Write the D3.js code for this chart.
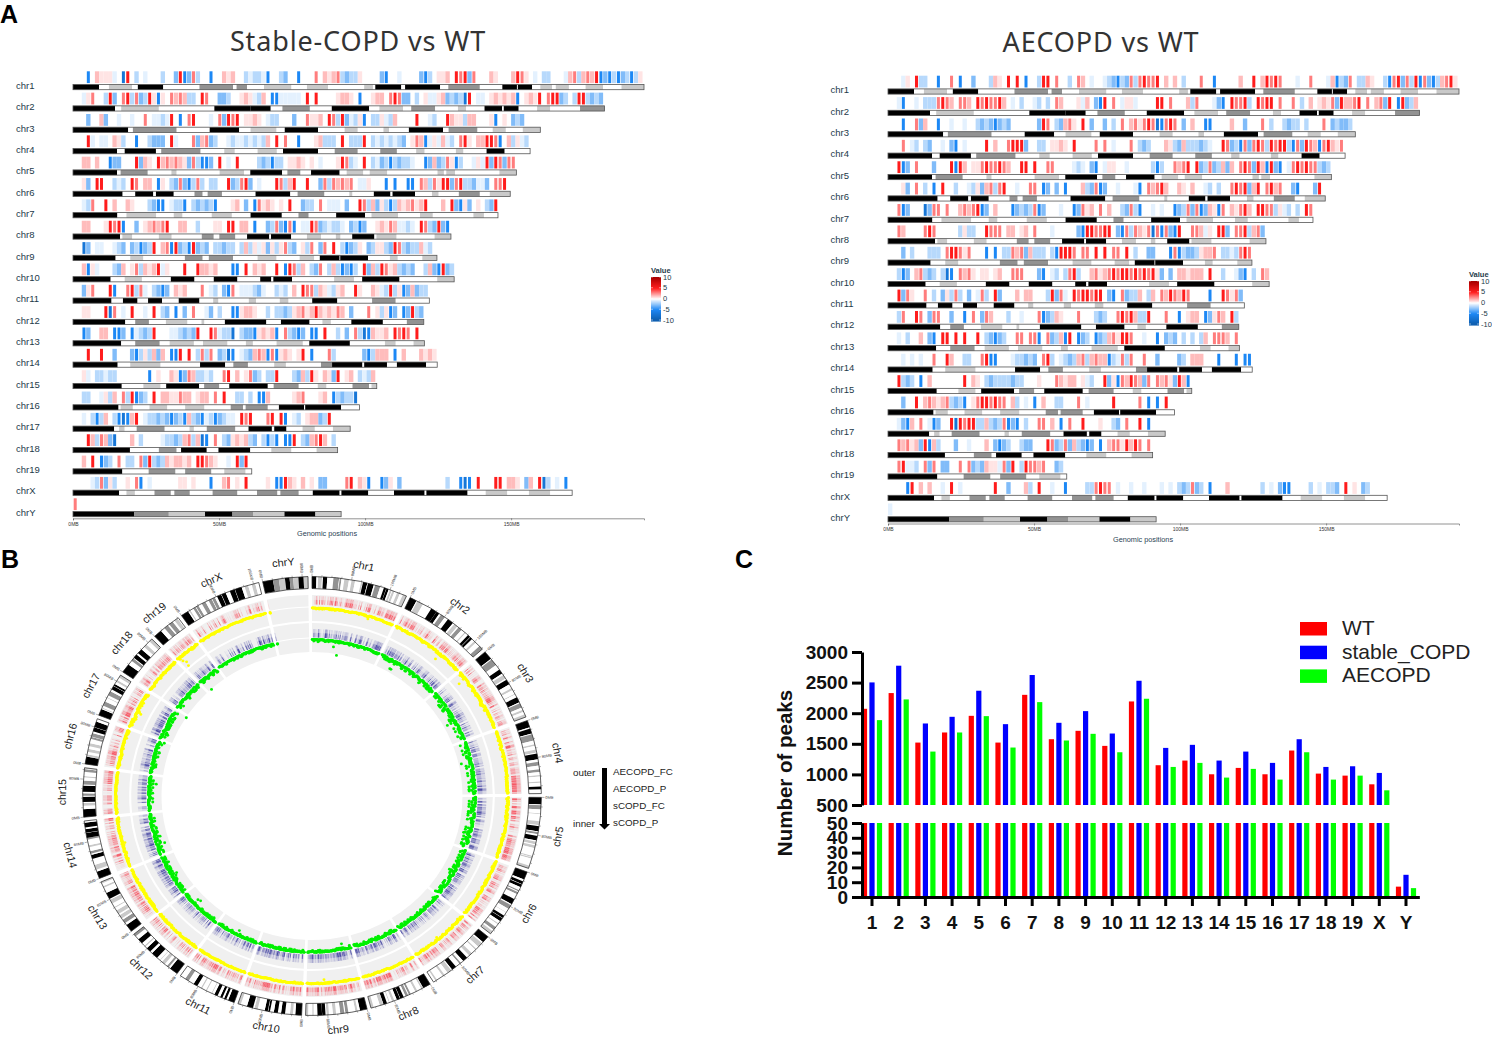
<!DOCTYPE html>
<html><head><meta charset="utf-8">
<style>html,body{margin:0;background:#fff}svg{display:block}text{font-family:"Liberation Sans",Arial,sans-serif}</style>
<script src="https://cdnjs.cloudflare.com/ajax/libs/d3/7.8.5/d3.min.js"></script>
</head><body><svg id="c" width="1492" height="1037"><defs><filter id="soft" x="0" y="0" width="100%" height="100%"><feGaussianBlur stdDeviation="0.55 0.25"/></filter></defs></svg>
<script>
const chrNames=["chr1","chr2","chr3","chr4","chr5","chr6","chr7","chr8","chr9","chr10","chr11","chr12","chr13","chr14","chr15","chr16","chr17","chr18","chr19","chrX","chrY"];
// ideogram bands: end position in MB + stain (k black, d dark gray, m light gray, w white)
const chrBands=[
"8.9k 12.3w 20.2m 22.2w 30.9k 43.3w 54.8d 56w 59.6d 65.4w 74.8m 80.1w 87.3m 99.7w 102.7m 103.5w 112.4k 113.7w 125.7k 128.5w 139.3d 147w 152k 152.3w 157.2k 160w 164m 165.3w 169.8m 175.5w 181.5m 187.8w 195.5m",
"14.4k 16.5w 29.4m 48.4w 60.7k 67.7k 71.7w 81.1d 88.6w 101.4k 104.9w 113m 115.8w 124d 131.8w 134.6m 140.9w 146.9k 147.5w 152.6k 158.9w 163.4m 173.6w 182d",
"18.9k 20.5w 35.5d 46.8w 56.9k 60.8w 69.7m 72.5w 83.9k 93w 97.5m 106.3w 108.2m 115w 126.7k 128.6w 138.5d 143.7w 148.2m 154w 160m",
"15.1k 17.7w 28.4k 30.2w 43.7d 51.8w 55.4m 63.2w 69.8m 71.9w 83.9k 89.6w 97.5d 105.2w 110.9d 117.5w 120.4m 131.1w 133.7m 141.6w 147.8k 156.5w",
"15.1k 16.3w 25.6d 33.7w 35.5m 50.2w 58.6m 60.7w 71.6k 73.4w 77.9d 81.5w 91.3k 93.7w 99.4m 101.6w 107.6m 124.8w 127m 127.8w 130.8m 146w 151.8m",
"17k 21.3w 27.5k 28.4w 34.5k 41.6w 44.4d 46.1w 51d 62.5w 74.4k 76.9w 86.1d 94.6w 95.7m 103w 108.7k 109.4w 117.1k 122.9w 125.2m 132.1w 139.3d 142.7w 149.7m",
"15.2k 18.3w 28.5m 34.5w 37.5m 47.5w 54.4m 60.8w 71.5k 77.2w 80.7d 90.1w 100k 102.2w 111.3m 118.8w 123.2m 137.1w 140.7m 145.5w",
"16.1k 16.9w 20.3m 29.4w 33.8m 44.1w 48.2d 50.1w 55.6d 59.6w 67.2k 67.8w 74.7k 80.1w 84.9m 90w 91.6m 95.6w 103.2k 103.9w 110.8m 123.8w 129.4m",
"14.6k 19.6w 24.1m 38.3w 44.4d 46.5w 54.8d 63.2w 69.7m 77.6w 82.6m 84.5w 91.3k 91.5w 101k 108.5w 111.2m 119.6w 124.6m",
"12.9k 17.7w 23.6m 33.5w 41.6k 48.2w 56.3k 64.1w 67.9k 68.6w 75k 89.4w 96.2m 99w 111.8k 124.7w 130.5m",
"13.2k 17.1w 22.1k 25.7w 30.5k 36.2w 43.3k 48w 49.8m 60.2w 62.7m 70.8w 73.8m 81.9w 90.5k 102.4w 110.5d 122w",
"17.9k 21.3w 26d 31.8w 39.2m 44w 45m 52w 66.2k 71.2w 81k 85.4w 88.3m 95.3w 106.1k 114.3w 120.1d",
"16.5k 21.3w 29.7d 33.1w 41.4m 44.5w 52.9m 59.2w 61.6m 69.7w 78.7m 80.9w 94.8k 106.8w 110.5m 116.6w 120.3m",
"15.3k 19.6w 30m 43.5w 52.1k 54.9w 59.9d 68.9w 72.9m 84.9w 88.7d 99.1k 99.7w 107.5k 110.9w 120.9k 124.7w",
"16.7k 24.1w 30m 31.9w 43.2k 44.9w 50.1d 53.5w 66.7k 68.7w 77.3d 83.8w 86.8m 95.7w 101.4d 102.2w 104m",
"15.6k 16.3w 20.5m 26.2w 32.3m 38.4w 45m 54w 58.2d 59.1w 66.7d 70.5w 79.1k 79.5w 91.8k 98.1w",
"14.1k 15.8w 17.7m 21.8w 31.4d 39.9w 41.4m 45.8w 55.6d 60.1w 68.1k 68.9w 73.1k 78.6w 82.8m 89w 94.9m",
"19.5k 29.4w 35.5d 37w 45.8k 49.8w 60.7k 67.9w 74.8m 83.4w 90.6m",
"16.9k 25.9w 35.1d 38.4w 47.4d 51.8w 59.1m 61.2w",
"15.8k 18.3w 21.2m 27.9w 33.5d 34.7w 40d 47.8w 56.3d 63w 70d 71w 77.3d 82.1w 91.3k 91.9w 101.1k 109.9w 120.4k 121w 135.1k 141.3w 148.7m 156.1w 163.4m 170.9w",
"20.9k 32.8d 45.2m 54.6k 61.8d 72.4m 83k 91.8m"];
// heat cells, one character per 1.5 MB bin: . none, a-e negative, 1-5 positive
const heatCodes={".":null,a:-0.6,b:-1.6,c:-2.8,d:-5,e:-7,"1":0.6,"2":1.5,"3":2.9,"4":5,"5":7};
const stableCOPD=[
"...d.2111a .e4.b.a... b..c4dc3b. .d..212..b abbad..bc. .d...3.212 3bcbb1.... cd..a....c db.112.434 c3...21... 2431.a.bb. ..a23b2324 dcdbdcbdb1",
"..a13..b4c .34b3cb41d 1.3232bb.4 3..ccb..12 1ab2.ddaaa aa.4.4.... 1221.d..12 2.343cc.b. 1aa12cbcbe 4.aa.12121 2d.1214.34 4cb.b44bcb c",
"...c..2c.. a..a..3.aa ba4.d.34.. .a.3c434.1 121.abb... c..3112.43 b4cab1d.bb 1ab2....4. .ab..4211b 22...1d.1. cbc...1",
"...4a.aa.2 1b..d..bcc c.4a...3c2 3cb..abaab abab2.4.3. .d...12bbb .4.bbb4.ba bababc.132 da1a2ab.34 1.22443d.2 b1ab",
"..22.2..dc c...4c21.4 232321c3bd dc.4.a.4.. ..bcbdbb.1 121.1.a... 143ba.4.ba cbdbcbba.. dc2cb31db. .a1a4c43c3 3",
"..1c.44..b ab.43.22.d 1.bc3cdb3b .bb..4cb34 c.a...43b2 4..4..c3b3 2323.aa1.. .d.d..dd.3 2b3144c34b bcaac.3342 b",
"..ab3..4.2 ..21...bcd d.abbd.bcb cbd...12.c .d3121.1.4 ..cbb.3.aa a.c..43b2c 1bdb212312 4...2.4cd1 c.1.bc42",
"..22...143 4d..c.1232 34..22..b. ..11.44.22 .d..cb3cd3 d.aa43cbab ba.cbdc..1 2132aaba.4 3bc4cdbc",
"..ec.aa..a bc.cbdcb4. 23d4cbd4cb c.bbcbb.b2 b1a1c1b13b c.1b3.c3.4 .bdcb1.cb1 1bc43bcbb2 ab.cdec.b",
"..2d1a...b c2.13b2124 a1...4..42 212...dd.4 .212..4.d4 3b2.bc3.b2 bdcdb.4c2b 4312bcbc.. b2cd4cbc",
"..c13...4d ..34b3a.bc dc.212...3 .ab.cd3.aa abca..bab. 2.433b21ab 12..41..21 ab4b1dc2cb bb.21321",
"..11...4e3 .a.4..a.4. bc.d.c.3.. ac.b..dd12 21..b.bbcb 1231242121 32.c...3.1 b1dc.dc4bc b",
"..dc..22.d dc.dabcb4. ..aabcbc4. .43abbe.bc cd1212d.3b cdc.dd.4.. b.c.3bed21 12.4343.4. 2",
"...4..4..c ...cdb1b2c 2.dd4.4.b3 b3.cbed.ab c232d3d121 .14.d...3b ......cdb2 22.d.2...2 121",
"..1a.bbabb .......d.1 ..21dc32bb ab..34.2.1 3cb.bb4... bc2b41.21c 4.12.bab2c",
"..bb..a1b2 .3b4dcb.4. 2211322.12 2.3.4..bb. b.dd2..... 123...12.d bcbbed",
"..a.bdb2.b ded24.abbc bcdcbd2bcd abdcbaa.43 4...34.4d. ab.122cb4",
"...42b32ce ...2.b.... abbcb23b2e d.3.bc1212 bc.bdbd.dd 4.bc2342.b b",
"..2.4.dcb. 3.bb.3c4bc b212212.44 321..a.4c4 232",
"....ab3c1b ..1.3d.a.. ....11.1.. .d..23.1.4 ....1.dd42 1.2.1.cc.. ..34.21d.. dc1.c..... .....b..de d.4...44.2 21.c2.4eb. a.d",
"3"];
const aecopd=[
"...a1.4bb. .d..3.d..c ...b21.4.4 .d..b44.3. .b.32.a..a bcdbc3b343 34.2.2.b.. .3..d..... 2..4.24343 ...a..3... a2dbc3.bb2 1..bd34c3b 4d3cdb2341",
"..ad..a.bb b3432.332. 4343342.a. b..ab.b.32 ...1a2.cd4 .3.a11a... .44.3...2b 3...acd.43 34b.4344.3 ..3.b.2.12 13c42234.3 .23c4.d4cb 2",
"...d..3c2. .d..a..a.. bcbcdcbc.. ....c43.bc 231.4.c..c .b.3.23134 3ed343.c.2 ..dd....2. .c...3.b.. bcbb.b...3 .cbccb",
"...3.ab.bc ..a.cd.a.. ..4.2..344 4c..bb.112 1.4....3.3 .a...3.bcb ...21bc2bb bcba..43cb d3c343b434 4bd3c432d3 4213",
"..4dc.3... c...4d42.1 13433432.. 44.4..33.. ..aba.cd.a 11..a..... bdb..3234. 4cb3cb2c2. 343c42d4cd .a343433bc b",
"...1c.3.b. d.4..b..ab 1c23b34..a ..33.dc.c. d...2bc3dc ..a...ad.3 2342..21.2 ..ab.b..34 34c24.3423 ..cd...c4d a",
"..3dc...ec 33.3..2323 4dc.2...dc bcb3dc...a ..dc312.3. 2..bc3bd.. a.a..dcb3c 3dc21d3.21 342.4433b1 ab.b.4343",
"..32....34 3.....b1bb ..4333.22. 12.3...a.. ...cd44334 4.cd3b3213 e3d3cd4..3 32a1.44c.3 34b23cb",
"...c.b...b bb.344313. ..d.d.bb32 3c2bbb.bd4 443.33.4.4 .33.4.b..c c...d3dbcc b1223.bbab 3434",
"..bdc.23bc b.bed.3231 .11.12..33 3...cd.ab. b34b..2312 3434434343 41c.c.2212 22.4..b..a cd.b.32",
"..4c31..3. b.c1b3b.c. a3b.4c...2 .22...b4c3 a.4344344. cd.3cbb2.b 2.3243243. ...d..4313 c2",
"..b3..43.c 33..c..d.3 .c32...b.. a...3dcb21 ...3...bcb ..34342bb4 ...3..d.12 2.dc132.4b b",
"..a.b..2.c d.44.4.4.. 4.bcdcb..3 3.33d.3cb2 d4.dcb.dcb 231443..a. .d.cbc.b.b .b2.3332.3 3c",
"...a.a.a.. 3..42..bb. .34dd...ab bcbc.34b.a bcb23b2322 dba3b3..3. .c....cb.2 22...d...d .dd",
"..4bcb.d.2 .......4.2 1.bcbbbbcb b...1...32 122.1ab..4 c1d32432c3 .3231c42d",
"...c..4.23 2123bcbd.1 3443433.2b .a.d.2..bb ...3.a.... .4.....3.d .d.4.bcd",
"..acd2.3.a dc..4e4344 bb2bcb3dcd .b..33.2.d .3..4...1. .bc.3..4.d",
"..32312c4d 2b...c..a. ..2.cdcb.. bcc...43cb 3c2bcdc.d. 23314243.3",
"..34aab.3c 3.cc..3.3c bc211a3c4. b43323..cb c44ab",
"....d4.2.2 ..a.4.a... ....4..c.. .2b.4..a.. d....bb343 3.a..a..a. ..a.a.bcb3 cb.d...2.. .....b.a.c dd....b.a. bbc.4.1.cb ...d",
"a"];
// P-value scatter width per chromosome
const aecopdPSpread=[1,1.5,2,1.5,1.5,1.5,1.5,1,1,1,1,1.5,1.5,1.5,1,1.5,2,1.5,2,1,1];
const scopdPSpread=[1.5,3,5,6,6,4,2.5,2.5,2,2,2,2,3,4,4,4,4,3,3,1.5,1.5];
const aecopdPOutliers=[[0,135,3],[1,124,7],[2,20,8],[2,94,3],[8,83,4],[16,39,5],[18,9,12],[18,12,8],[18,7,5],[16,42,3],[20,1,1],[6,80,3],[13,60,3]];
const scopdPOutliers=[[0,76,14],[0,63,6],[1,40,9],[1,44,9],[18,10,13],[16,92,13],[14,81,7],[8,25,6],[11,84,6],[11,76,7],[5,71,6],[5,149,5],[4,110,7],[3,60,10],[2,100,9],[13,30,8],[20,2,1],[12,60,6],[10,60,5]];
const panelCCats=["1","2","3","4","5","6","7","8","9","10","11","12","13","14","15","16","17","18","19","X","Y"];
const wtPeaks=[2072,2329,1520,1685,1957,1520,2300,1575,1712,1466,2192,1150,1226,1002,1106,1002,1390,1013,980,838,7];
const stablePeaks=[2503,2776,1832,1941,2367,1821,2624,1843,2034,1668,2530,1433,1483,1226,1373,1188,1575,1122,1133,1024,15];
const aecopdPeaks=[1887,2225,1373,1685,1952,1439,2181,1554,1663,1362,2236,1122,1188,948,1090,915,1362,915,980,740,6];
const peakSeries=[["WT",wtPeaks,"#ff0000"],["stable_COPD",stablePeaks,"#0000ff"],["AECOPD",aecopdPeaks,"#00ff00"]];
const legendTicks=[10,5,0,-5,-10];
const axisMB=[0,50,100,150];
const ringLegend=["AECOPD_FC","AECOPD_P","sCOPD_FC","sCOPD_P"];

const svg=d3.select("#c");
const bands=chrBands.map(s=>{let p=0;return s.split(" ").map(t=>{const e=parseFloat(t),c=t.slice(-1),r={s:p,e:e,c:c};p=e;return r;});});
const lens=bands.map(b=>b[b.length-1].e);
const stain={k:"#000",d:"#929292",m:"#c9c9c9",w:"#fff"};
const heat=d3.scaleLinear().domain([-10,-5,0,5,10]).range(["#0d5cab","#1e88f5","#ffffff","#ff1f1f","#a80000"]);
const binMB=1.5;
const parseHeat=(s,i)=>Array.from(s.replace(/ /g,"")).map((c,k)=>({mb:k*binMB,v:heatCodes[c]})).filter(d=>d.mb+binMB<=lens[i]);

function panel(arr,o){
  const g=svg.append("g");
  const x=d3.scaleLinear().domain([0,195.5]).range([o.x0,o.x0+571]);
  const row=d3.scaleLinear().domain([0,20]).range([o.y0,o.y0+20*o.pitch]);
  const hg=g.append("g").attr("filter","url(#soft)");
  arr.forEach((s,i)=>{
    const y=row(i);
    hg.selectAll(null).data(parseHeat(s,i).filter(d=>d.v!==null)).enter().append("rect")
      .attr("x",d=>x(d.mb)+(Math.abs(d.v)>=2.9?.7:0)).attr("width",d=>Math.abs(d.v)>=2.9?3:x(binMB)-x(0)).attr("y",y).attr("height",11.8).attr("fill",d=>heat(d.v));
    g.selectAll(null).data(bands[i]).enter().append("rect")
      .attr("x",d=>x(d.s)).attr("width",d=>x(d.e)-x(d.s)).attr("y",y+13.2).attr("height",5.2).attr("fill",d=>stain[d.c]);
    g.append("rect").attr("x",x(0)).attr("y",y+13.2).attr("width",x(lens[i])-x(0)).attr("height",5.2).attr("fill","none").attr("stroke","#555").attr("stroke-width",.8);
    g.append("text").attr("x",o.lx).attr("y",y+17.5).attr("font-size",9.5).attr("fill","#1d3a4a").text(chrNames[i]);
  });
  const ay=o.y0+20*o.pitch+20;
  const ax=d3.axisBottom(x).tickValues(axisMB).tickSize(2).tickFormat(d=>d+"MB");
  const ag=g.append("g").attr("transform",`translate(0,${ay})`).call(ax);
  ag.select(".domain").attr("stroke","#777").attr("stroke-width",.8);
  ag.selectAll("line").attr("stroke","#555").attr("stroke-width",.6);
  ag.selectAll("text").attr("font-size",5).attr("fill","#333").attr("dy",0).attr("y",7.5);
  ag.attr("font-family",null);
  g.append("text").attr("x",o.gx).attr("y",ay+18).attr("font-size",7.3).attr("fill","#2a4356").text("Genomic positions");
  const lg=g.append("g");
  lg.append("text").attr("x",o.legX).attr("y",o.legY+.5).attr("font-size",7.5).attr("font-weight","bold").attr("fill","#1d3a4a").text("Value");
  const ly=d3.scaleLinear().domain([10,-10]).range([o.legY+5,o.legY+48]);
  const vals=d3.range(10,-10,-0.5);
  lg.selectAll(null).data(vals).enter().append("rect").attr("x",o.legX).attr("width",10).attr("y",d=>ly(d)).attr("height",ly(9)-ly(10)+.5).attr("fill",d=>heat(d));
  lg.selectAll(null).data(legendTicks).enter().append("line").attr("x1",o.legX).attr("x2",o.legX+10).attr("y1",d=>ly(d)).attr("y2",d=>ly(d)).attr("stroke","#fff").attr("stroke-width",.5).attr("stroke-dasharray","2 6");
  lg.selectAll(null).data(legendTicks).enter().append("text").attr("x",o.legX+12).attr("y",d=>ly(d)+2.6).attr("font-size",7.5).attr("fill","#1d3a4a").text(d=>d);
}
panel(stableCOPD,{x0:73,y0:71.3,pitch:21.35,lx:16,gx:297,legX:651,legY:272});
panel(aecopd,{x0:888,y0:75.7,pitch:21.39,lx:830.5,gx:1113,legX:1469,legY:276});

const T=(x,y,t,fs,extra)=>{const e=svg.append("text").attr("x",x).attr("y",y).attr("font-size",fs).text(t);if(extra)Object.entries(extra).forEach(([k,v])=>e.attr(k,v));return e;};
T(0,23,"A",25,{"font-weight":"bold"});T(1,568,"B",25,{"font-weight":"bold"});T(735,568,"C",25,{"font-weight":"bold"});
T(358,51,"Stable-COPD vs WT",27,{"text-anchor":"middle","fill":"#333","letter-spacing":"0.85","style":"font-family:'Noto Sans'"});
T(1101,52,"AECOPD vs WT",27,{"text-anchor":"middle","fill":"#333","letter-spacing":"0.85","style":"font-family:'Noto Sans'"});

// Panel B
const gap=1,total=d3.sum(lens),perMB=(360-gap*lens.length)/total;
const starts=[];let acc=0;lens.forEach((l,i)=>{starts.push(acc);acc+=l*perMB+gap;});
const ang=(i,mb)=>starts[i]+mb*perMB;
const rad=a=>a*Math.PI/180;
const P=(a,r)=>[r*Math.sin(rad(a)),-r*Math.cos(rad(a))];
const B=svg.append("g").attr("transform","translate(312,796) scale(1.045,1)");
const arc=d3.arc();
const ringR=[[189.5,201],[175,188.5],[158.5,173],[144,157.5]];
const idO=219.5,idI=207.5;
const trackLayer=B.append("g"),dotLayer=B.append("g");
lens.forEach((l,i)=>{
  const a0=ang(i,0),a1=ang(i,l);
  ringR.forEach(r=>trackLayer.append("path").attr("d",arc({innerRadius:r[0],outerRadius:r[1],startAngle:rad(a0),endAngle:rad(a1)})).attr("fill","#f0f0f0"));
  B.selectAll(null).data(bands[i]).enter().append("path").attr("d",d=>arc({innerRadius:idI,outerRadius:idO,startAngle:rad(ang(i,d.s)),endAngle:rad(ang(i,d.e))})).attr("fill",d=>stain[d.c]);
  B.append("path").attr("d",arc({innerRadius:idI,outerRadius:idO,startAngle:rad(a0),endAngle:rad(a1)})).attr("fill","none").attr("stroke","#222").attr("stroke-width",.7);
  // ticks
  d3.range(0,l,20).forEach(m=>{const M=m%80===0;const p=P(ang(i,m),idO),q=P(ang(i,m),idO+(M?3:1.6));
    B.append("line").attr("x1",p[0]).attr("y1",p[1]).attr("x2",q[0]).attr("y2",q[1]).attr("stroke","#444").attr("stroke-width",.4);
    if(M){const a=ang(i,m),t=P(a,idO+3.8);const right=a<180;
      B.append("text").attr("transform",`translate(${t[0]},${t[1]}) rotate(${right?a-90:a+90})`).attr("text-anchor",right?"start":"end").attr("dy",1.4).attr("font-size",3.8).attr("fill","#333").text(m+"MB");}
  });
  const am=ang(i,l/2),lp=P(am,234.5+4.5*Math.abs(Math.sin(rad(am)))),rot=am>90&&am<270?am-180:am;
  B.append("text").attr("transform",`translate(${lp[0]},${lp[1]}) rotate(${rot})`).attr("text-anchor","middle").attr("dy",3.5).attr("font-size",10.5).attr("fill","#222").text(chrNames[i]);
  // tracks
  const red=parseHeat(aecopd[i],i),blue=parseHeat(stableCOPD[i],i);
  const lines=(data,col,r0,r1)=>{data.filter(d=>d.v!==null).forEach(d=>{const a=ang(i,d.mb+.7),k=Math.min(1,Math.abs(d.v)/5);
    const p=P(a,r0),q=P(a,r0+(r1-r0)*.55),u=P(a,r1);
    trackLayer.append("line").attr("x1",p[0]).attr("y1",p[1]).attr("x2",q[0]).attr("y2",q[1]).attr("stroke",col).attr("stroke-width",.65).attr("stroke-opacity",.04+.85*k);
    trackLayer.append("line").attr("x1",q[0]).attr("y1",q[1]).attr("x2",u[0]).attr("y2",u[1]).attr("stroke",col).attr("stroke-width",.65).attr("stroke-opacity",.02+.35*k);
  });};
  lines(red,"#f81c2e",191.5,200);
  lines(blue,"#14148c",158.5,167);
  const dots=(data,col,r0,spread)=>{data.forEach(d=>{const p=P(ang(i,d.mb+.7),r0-Math.abs(d.v||0)/5*spread);
    dotLayer.append("circle").attr("cx",p[0]).attr("cy",p[1]).attr("r",1.45).attr("fill",col);});};
  dots(red,"#ffff00",188,aecopdPSpread[i]);
  dots(blue,"#00f000",156.5,scopdPSpread[i]);
});
const outl=(arr,col,r0)=>arr.forEach(o=>{const p=P(ang(o[0],o[1]),r0-o[2]);B.append("circle").attr("cx",p[0]).attr("cy",p[1]).attr("r",1.4).attr("fill",col);});
outl(aecopdPOutliers,"#ffff00",188);outl(scopdPOutliers,"#00f000",156.5);
// ring legend
T(573,776,"outer",9.8,{fill:"#222"});T(573,827,"inner",9.8,{fill:"#222"});
svg.append("path").attr("d",d3.line()([[602,768],[607,768],[607,824],[610,824],[604.5,829.5],[599,824],[602,824]])+"Z").attr("fill","#000");
ringLegend.forEach((t,i)=>T(613,775+i*17,t,9.8,{fill:"#222"}));

// Panel C
const C=svg.append("g");
const xC=d3.scaleBand().domain(panelCCats).range([858.65,1419.35]);
const off=d3.scaleOrdinal().domain(peakSeries.map(s=>s[0])).range([-7.5,0,7.5]);
const yU=d3.scaleLinear().domain([500,3000]).range([805,652]);
const yL=d3.scaleLinear().domain([0,50]).range([897,823]);
peakSeries.forEach(s=>{
  s[1].forEach((v,i)=>{
    const xx=xC(panelCCats[i])+xC.bandwidth()/2+off(s[0])-2.6;
    C.append("rect").attr("x",xx).attr("width",5.2).attr("y",yL(Math.min(v,50))).attr("height",yL(0)-yL(Math.min(v,50))).attr("fill",s[2]);
    if(v>500)C.append("rect").attr("x",xx).attr("width",5.2).attr("y",yU(v)).attr("height",yU(500)-yU(v)).attr("fill",s[2]);
  });
});
const sty=(g,fs)=>{g.selectAll("path,line").attr("stroke","#000").attr("stroke-width",3);g.selectAll("text").attr("font-size",fs).attr("font-weight","bold").attr("fill","#111").attr("font-family","'Liberation Sans'");};
C.append("g").attr("transform","translate(862,0)").call(d3.axisLeft(yU).tickValues([500,1000,1500,2000,2500,3000]).tickFormat(d3.format("d")).tickSize(10).tickSizeOuter(0).tickPadding(4)).call(g=>sty(g,19));
C.append("g").attr("transform","translate(862,0)").call(d3.axisLeft(yL).tickValues([0,10,20,30,40,50]).tickSize(10).tickSizeOuter(0).tickPadding(4)).call(g=>sty(g,19));
C.append("g").attr("transform","translate(0,897)").call(d3.axisBottom(xC).tickSize(9).tickSizeOuter(0).tickPadding(10)).call(g=>sty(g,19));
T(792,773,"Number of peaks",20.5,{"font-weight":"bold","text-anchor":"middle",transform:"rotate(-90 792 773)",fill:"#111"});
peakSeries.forEach((s,i)=>{
  C.append("rect").attr("x",1300).attr("y",622+i*23.7).attr("width",27).attr("height",13.5).attr("fill",s[2]);
  T(1342,635+i*23.5,s[0],21,{fill:"#222"});
});
</script></body></html>
